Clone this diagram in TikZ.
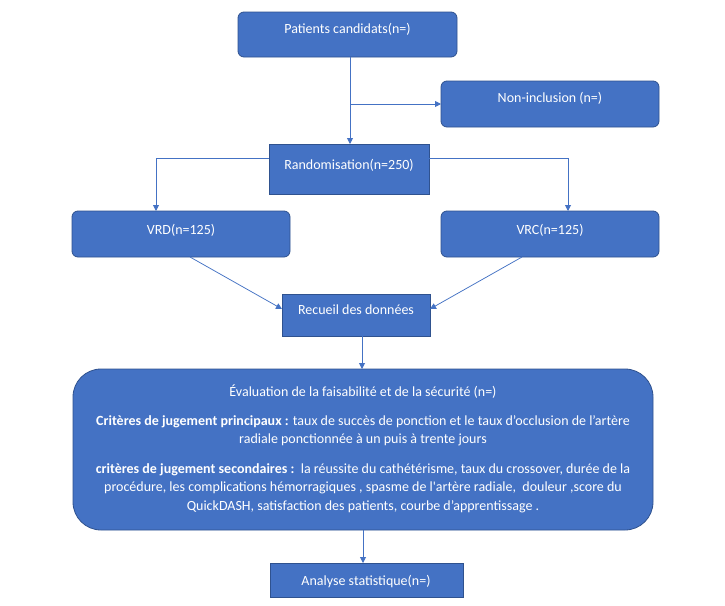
\documentclass[tikz,border=0pt]{standalone}
\usepackage{fontspec}
\setmainfont{Carlito}[Ligatures=TeXOff]
\usetikzlibrary{arrows.meta}
\definecolor{obl}{HTML}{4472C4}
\definecolor{obd}{HTML}{2F528F}
\begin{document}
\begin{tikzpicture}[x=1pt,y=-1pt,
  box/.style={draw=obd, line width=0.8pt, fill=obl, inner sep=0pt, outer sep=0pt, anchor=north west},
  rbox/.style={box, rounded corners=6pt},
  txt/.style={text=white, font=\fontsize{14}{17.5}\selectfont, anchor=base, inner sep=0pt},
  conn/.style={draw=obl, line width=0.9pt},
  arr/.style={conn, -{Triangle[length=6pt,width=6pt]}}]
\useasboundingbox[fill=white] (0,0) rectangle (725,605);

% boxes
\node[rbox, minimum width=219pt, minimum height=45pt] (pat) at (238,12) {};
\node[rbox, minimum width=218pt, minimum height=46pt] (non) at (441,81) {};
\node[box, minimum width=160pt, minimum height=50pt] (rand) at (269,144) {};
\node[rbox, minimum width=218pt, minimum height=46pt] (vrd) at (72,211) {};
\node[rbox, minimum width=218pt, minimum height=46pt] (vrc) at (441,211) {};
\node[box, minimum width=148pt, minimum height=42pt] (rec) at (282,294) {};
\node[box, rounded corners=28pt, minimum width=580pt, minimum height=161pt] (eval) at (73,369) {};
\node[box, minimum width=193pt, minimum height=34pt] (ana) at (270,563) {};

% texts
\node[txt] (patt) at (347.5,33) {Patients candidats(n=)};
\node[txt] (nont) at (550,102) {Non-inclusion (n=)};
\node[txt] (randt) at (349,169) {Randomisation(n=250)};
\node[txt] (vrdt) at (181,234) {VRD(n=125)};
\node[txt] (vrct) at (550,234) {VRC(n=125)};
\node[txt] (rect) at (356,314) {Recueil des données};
\node[txt] (anat) at (366,585) {Analyse statistique(n=)};
\node[txt] (ev1) at (363,396) {Évaluation de la faisabilité et de la sécurité (n=)};
\node[txt] (ev2) at (363,425) {\textbf{Critères de jugement principaux :} taux de succès de ponction et le taux d’occlusion de l’artère};
\node[txt] (ev3) at (363,443) {radiale ponctionnée à un puis à trente jours};
\node[txt] (ev4) at (363,473) {\textbf{critères de jugement secondaires :}\ \ la réussite du cathétérisme, taux du crossover, durée de la};
\node[txt] (ev5) at (363,491) {procédure, les complications hémorragiques , spasme de l'artère radiale,\ \ douleur ,score du};
\node[txt] (ev6) at (363,510) {QuickDASH, satisfaction des patients, courbe d’apprentissage .};

% connectors
\coordinate (br) at (350,104);
\draw[arr] (pat.south -| br) -- (rand.north -| br);
\draw[arr] (br) -- (non.west);
\draw[arr] (rand.west |- 0,158) -| (vrd.north -| 156,0);
\draw[arr] (rand.east |- 0,158) -| (vrc.north -| 568,0);
\draw[arr, line width=0.75pt] (vrd.south -| 190,0) -- (rec.west |- 0,309);
\draw[arr, line width=0.75pt] (vrc.south -| 522,0) -- (rec.east |- 0,309);
\draw[arr] (rec.south -| 362,0) -- (eval.north -| 362,0);
\draw[arr] (eval.south -| 363,0) -- (ana.north -| 363,0);
\end{tikzpicture}
\end{document}
